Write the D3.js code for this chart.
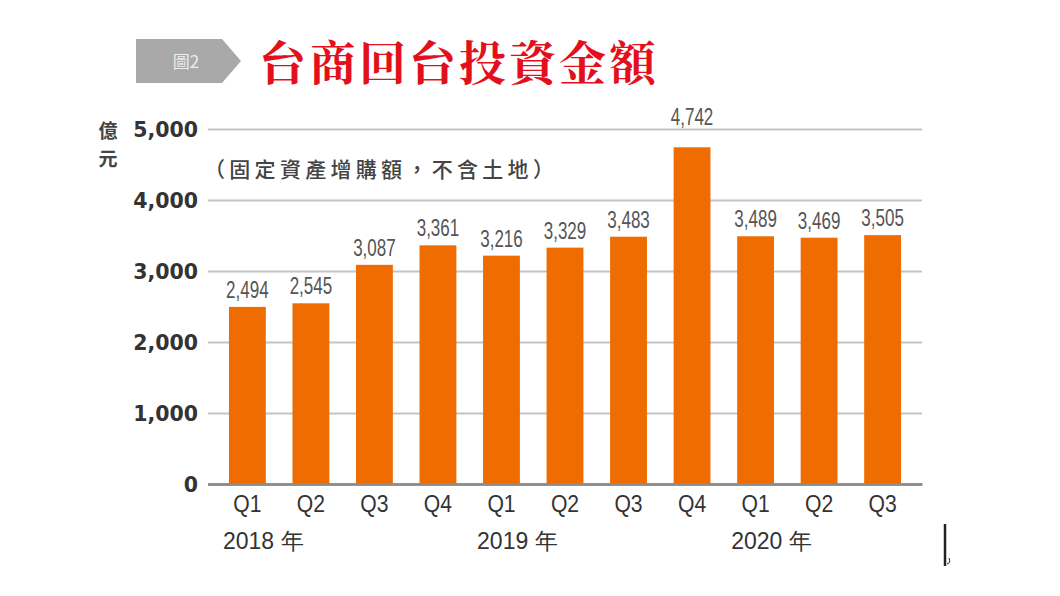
<!DOCTYPE html>
<html>
<head>
<meta charset="utf-8">
<script src="https://cdn.jsdelivr.net/npm/d3@7"></script>
<style>
  html, body { margin: 0; padding: 0; background: #fff; }
  svg { display: block; }
</style>
</head>
<body>
<svg id="chart" width="1060" height="596"></svg>
<script>
// data
const quarters = ["Q1", "Q2", "Q3", "Q4", "Q1", "Q2", "Q3", "Q4", "Q1", "Q2", "Q3"];
const values   = [2494, 2545, 3087, 3361, 3216, 3329, 3483, 4742, 3489, 3469, 3505];
const years    = ["2018 年", "2019 年", "2020 年"];
const yearStart = [0, 4, 8];          // index of the first quarter of each year
const yTicks   = [0, 1000, 2000, 3000, 4000, 5000];

const title    = "台商回台投資金額";
const subtitle = "（固定資產增購額，不含土地）";
const unit     = ["億", "元"];

const svg = d3.select("#chart");

const cjk  = "'Noto Sans CJK TC', 'Noto Sans CJK SC', sans-serif";
const latin = "'Liberation Sans', Arial, sans-serif";

const x = d3.scaleBand()
    .domain(d3.range(values.length))
    .range([208, 922])
    .paddingInner(0.42)
    .paddingOuter(0.33);

const y = d3.scaleLinear()
    .domain([0, 5000])
    .range([484, 129]);

//-------------------- header --------------------
const badge = svg.append("g");
badge.append("path")
    .attr("d", "M136,39 L222,39 L241,61 L222,83 L136,83 Z")
    .attr("fill", "#a9a9a9");
badge.append("text")
    .attr("x", 186).attr("y", 68)
    .attr("text-anchor", "middle")
    .attr("font-family", cjk)
    .attr("font-size", 17)
    .attr("fill", "#ececec")
    .text("圖2");

svg.append("text")
    .attr("x", 259).attr("y", 80)
    .attr("font-family", "'Noto Serif CJK TC', 'Noto Serif CJK SC', " + cjk)
    .attr("font-weight", 700)
    .attr("font-size", 47)
    .attr("letter-spacing", 3)
    .attr("fill", "#e3101c")
    .text(title);

//-------------------- y axis + grid --------------------
const yAxis = svg.append("g")
    .attr("transform", "translate(208,0)")
    .call(d3.axisLeft(y)
        .tickValues(yTicks)
        .tickSize(-(922 - 208))
        .tickPadding(10)
        .tickFormat(d3.format(",")));

yAxis.select(".domain").remove();
yAxis.selectAll(".tick line")
    .attr("stroke", d => d === 0 ? "#8c8c8c" : "#c4c4c4")
    .attr("stroke-width", d => d === 0 ? 2.5 : 1.8);
yAxis.selectAll(".tick text")
    .attr("font-family", "'DejaVu Sans', sans-serif")
    .attr("font-weight", 700)
    .attr("font-size", 20.5)
    .attr("fill", "#333")
    .attr("dy", "0.36em");

// unit, stacked vertically
svg.append("g").selectAll("text")
    .data(unit)
    .join("text")
    .attr("x", 108)
    .attr("y", (d, i) => 138 + i * 28)
    .attr("text-anchor", "middle")
    .attr("font-family", cjk)
    .attr("font-weight", 700)
    .attr("font-size", 19)
    .attr("fill", "#444")
    .text(d => d);

svg.append("text")
    .attr("x", 204).attr("y", 177)
    .attr("font-family", cjk)
    .attr("font-weight", 500)
    .attr("font-size", 21)
    .attr("letter-spacing", 4.3)
    .attr("fill", "#444")
    .text(subtitle);

//-------------------- bars --------------------
svg.append("g").selectAll("rect")
    .data(values)
    .join("rect")
    .attr("x", (d, i) => x(i))
    .attr("y", d => y(d))
    .attr("width", x.bandwidth())
    .attr("height", d => y(0) - y(d))
    .attr("fill", "#ee6c00");

// value labels; lift the label above a grid line when it would sit on it
const labelH = 17;
function labelY(v) {
    let base = y(v) - 9;
    yTicks.forEach(t => {
        const gy = y(t);
        if (t > 0 && gy > base - labelH && gy < base + 2) base = gy - 4;
    });
    return base;
}

svg.append("g").selectAll("text")
    .data(values)
    .join("text")
    .attr("transform", (d, i) => `translate(${x(i) + x.bandwidth() / 2},${labelY(d)}) scale(0.74,1)`)
    .attr("text-anchor", "middle")
    .attr("font-family", latin)
    .attr("font-size", 23)
    .attr("fill", "#555")
    .text(d => d3.format(",")(d));

//-------------------- x axis --------------------
const xAxis = svg.append("g")
    .attr("transform", `translate(0,${y(0)})`)
    .call(d3.axisBottom(x)
        .tickSize(0)
        .tickPadding(12)
        .tickFormat(i => quarters[i]));

xAxis.select(".domain")
    .attr("stroke", "#8c8c8c")
    .attr("stroke-width", 2.5);
xAxis.selectAll(".tick text")
    .attr("font-family", latin)
    .attr("font-size", 23)
    .attr("fill", "#333")
    .attr("transform", "scale(0.92,1)")
    .attr("dy", "0.71em");

svg.append("g").selectAll("text")
    .data(years)
    .join("text")
    .attr("x", (d, i) => x(yearStart[i]) - 6)
    .attr("y", 549)
    .attr("font-family", latin)
    .attr("font-size", 23)
    .attr("fill", "#333")
    .text(d => d);

// stray cursor mark at the lower right
const mark = svg.append("g").attr("stroke", "#222").attr("fill", "none");
mark.append("line")
    .attr("x1", 945).attr("y1", 524)
    .attr("x2", 945).attr("y2", 566)
    .attr("stroke-width", 2.5);
mark.append("path")
    .attr("d", "M949,558 Q951,563 947,564")
    .attr("stroke-width", 1);
</script>
</body>
</html>
